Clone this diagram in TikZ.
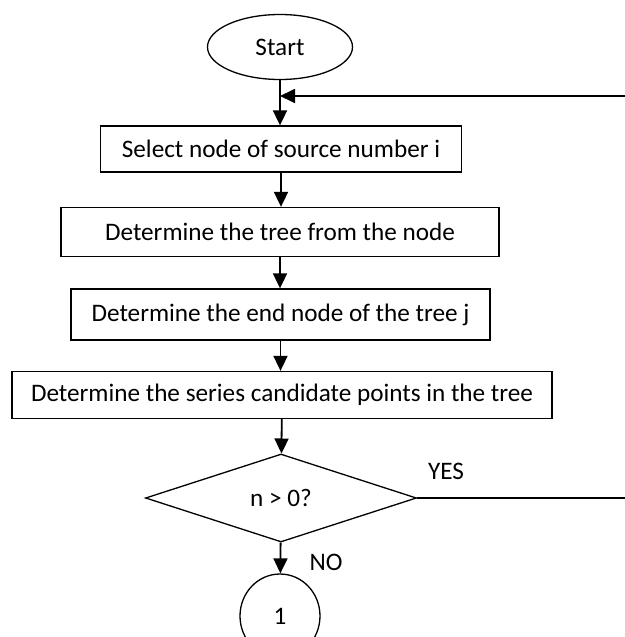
\documentclass[tikz,border=0pt]{standalone}
\usepackage{fontspec}
\setmainfont{Carlito}
\usetikzlibrary{
    shapes.geometric,
    arrows.meta
}
\tikzset {
    stepbox/.style = {draw, line width = 0.65pt, inner sep = 0pt},
    terminal/.style = {ellipse, draw, line width = 0.65pt, inner sep = 0pt,
        minimum width = 72.5pt, minimum height = 32.5pt},
    decision/.style = {diamond, draw, line width = 0.65pt, inner sep = 0pt,
        aspect = 3, minimum width = 135.5pt, minimum height = 44pt},
    connector/.style = {ellipse, draw, line width = 0.65pt, inner sep = 0pt,
        minimum width = 40pt, minimum height = 42pt},
    flow/.style = {line width = 0.9pt, -{Triangle[length = 7.5pt, width = 7pt]}},
    plain line/.style = {line width = 0.9pt},
    label text/.style = {inner sep = 0pt}
}

\begin{document}
\begin{tikzpicture}[x = 0.5pt, y = -0.5pt, font = \fontsize{12.6}{15}\selectfont]
    \useasboundingbox (0, 0) rectangle (625, 637);
    \node (start) [terminal] at (280, 47) {Start};
    \node (sel) [stepbox, minimum width = 180.5pt, minimum height = 23pt] at (281, 149) {Select node of source number i};
    \node (tree) [stepbox, minimum width = 219pt, minimum height = 24.5pt] at (280, 232) {Determine the tree from the node};
    \node (endn) [stepbox, minimum width = 209.5pt, minimum height = 25.5pt] at (280.5, 314.5) {Determine the end node of the tree j};
    \node (cand) [stepbox, minimum width = 270pt, minimum height = 23.5pt] at (282, 395) {Determine the series candidate points in the tree};
    \node (test) [decision] at (281, 498) {n > 0?};
    \node (one) [connector] at (280, 616) {1};
    \node (yes) [label text] at (446, 471) {YES};
    \node (no) [label text] at (326, 562) {NO};
    \coordinate (back) at (625, 96);
    \coordinate (out) at (625, 498);
    % main flow
    \draw [flow] (start) -- (start |- sel.north);
    \draw [flow] (back) -- (back -| start);
    \draw [flow] (sel) -- (sel |- tree.north);
    \draw [flow] (tree) -- (tree |- endn.north);
    \draw [flow] (endn) -- (endn |- cand.north);
    \draw [flow] (cand) -- (test);
    \draw [flow] (test) -- (one);
    \draw [plain line] (test.east) -- (out);
\end{tikzpicture}
\end{document}
